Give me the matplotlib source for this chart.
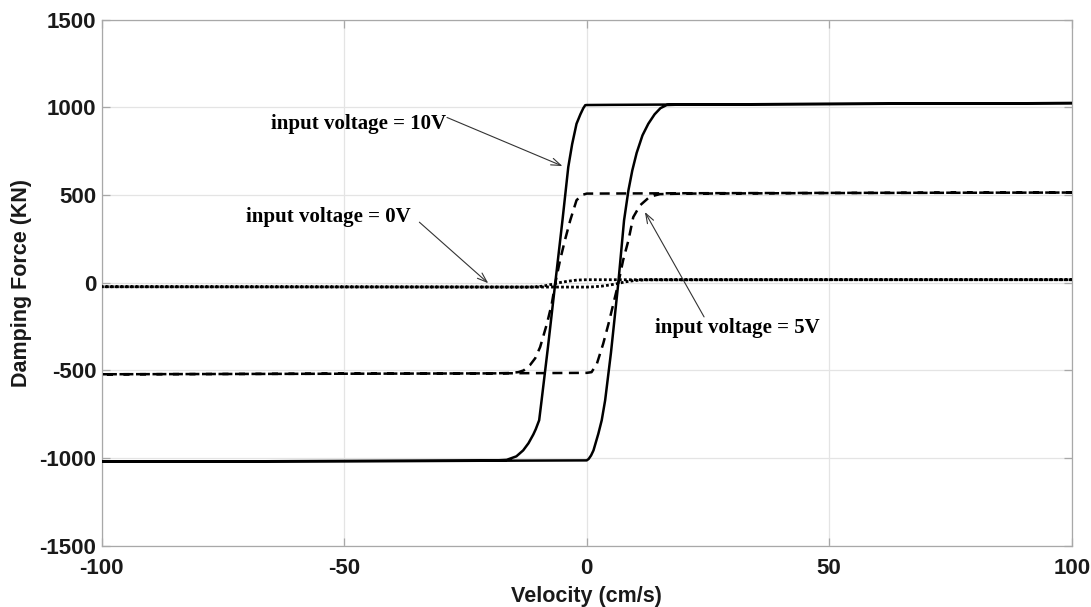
import matplotlib
matplotlib.use("Agg")
import matplotlib.pyplot as plt

plt.rcParams['axes.unicode_minus'] = False

# ---- data (velocity cm/s, force kN) ----
# 10 V loop: upper branch (velocity decreasing), lower branch (velocity increasing)
v10_up = [100, 50, 20, 5, 0, -0.3, -0.7, -1.3, -2.1, -3.0, -3.8, -5.0, -6.5, -8.0, -9.3, -9.8,
          -10.5, -11.0, -12.0, -13.1, -14.5, -16.5, -20, -50, -100]
f10_up = [1024, 1019, 1016, 1014, 1013, 1012, 995, 960, 906, 790, 659, 355, -6, -370, -671, -784,
          -835, -865, -915, -956, -990, -1010, -1015, -1017, -1020]
v10_dn = [-100, -50, -20, 0, 0.4, 0.9, 1.4, 2.4, 3.1, 3.8, 5.0, 6.5, 7.7, 8.6, 9.4, 10.3,
          11.5, 12.7, 14.0, 15.2, 16.5, 20, 50, 100]
f10_dn = [-1020, -1017, -1015, -1013, -1005, -985, -956, -861, -784, -671, -400, -6, 355, 526, 640, 740,
          840, 906, 960, 995, 1013, 1016, 1019, 1024]

# 5 V loop
v5_up = [100, 50, 20, 0, -1.0, -2.1, -3.4, -4.5, -5.5, -6.5, -7.2, -8.2, -9.6, -10.6, -11.7,
         -13.0, -14.1, -16, -20, -50, -100]
f5_up = [514, 512, 510, 508, 500, 470, 355, 241, 127, -6, -120, -234, -367, -430, -470,
         -500, -510, -515, -517, -519, -522]
v5_dn = [-100, -50, -20, 0, 1.0, 2.1, 3.4, 4.5, 5.5, 6.5, 7.5, 8.6, 9.6, 11.0, 13.0, 15.1, 20, 50, 100]
f5_dn = [-522, -519, -517, -514, -510, -462, -348, -234, -120, -6, 127, 241, 374, 441, 490, 505, 508, 511, 514]

# 0 V loop
v0_up = [100, 50, 0, -2, -4, -5.5, -7, -8.5, -10, -12, -50, -100]
f0_up = [17, 17, 17, 15, 8, 1, -8, -17, -23, -25, -24, -23]
v0_dn = [-100, -50, 0, 1, 3, 5, 6.5, 8, 10, 12, 50, 100]
f0_dn = [-23, -24, -25, -24, -20, -12, -4, 5, 13, 16, 17, 17]

x_ticks = [-100, -50, 0, 50, 100]
y_ticks = [-1500, -1000, -500, 0, 500, 1000, 1500]

labels = ["input voltage = 10V", "input voltage = 0V", "input voltage = 5V"]
label_xy = [(-47.0, 905), (-53.3, 375), (31.0, -258)]
arrow_from = [(-28.8, 942), (-34.5, 345), (24.2, -195)]
arrow_to = [(-5.0, 665), (-20.3, -3), (12.0, 403)]

# ---- figure ----
fig = plt.figure(figsize=(10.91, 6.07), dpi=100)
ax = fig.add_axes([101.7 / 1091, 61.2 / 607, 970 / 1091, 526.2 / 607])

lw = 1.8
ax.plot(v10_up + v10_dn, f10_up + f10_dn, color='black', lw=lw, linestyle='-', zorder=3)
ax.plot(v5_up + v5_dn, f5_up + f5_dn, color='black', lw=lw, linestyle=(0, (4, 2.6)), zorder=3)
ax.plot(v0_up + v0_dn, f0_up + f0_dn, color='black', lw=2.0, linestyle=(0, (1, 0.8)), zorder=3)

ax.set_xlim(-100, 100)
ax.set_ylim(-1500, 1500)
ax.set_xticks(x_ticks)
ax.set_yticks(y_ticks)
ax.set_xticklabels([str(t) for t in x_ticks])
ax.set_yticklabels([str(t) for t in y_ticks])

ax.grid(True, color='#e4e4e4', lw=0.9, zorder=0)
ax.set_axisbelow(True)
for s in ax.spines.values():
    s.set_color('#a8a8a8')
    s.set_linewidth(0.9)
ax.tick_params(direction='in', length=6, width=0.9, color='#a8a8a8',
               top=True, right=True)
ax.tick_params(axis='x', pad=9)
ax.tick_params(axis='y', pad=4)
for lab in ax.get_xticklabels() + ax.get_yticklabels():
    lab.set_fontfamily('Liberation Sans')
    lab.set_fontweight('bold')
    lab.set_fontsize(16)
    lab.set_color('#1a1a1a')

ax.set_xlabel('Velocity (cm/s)', fontfamily='Liberation Sans', fontweight='bold',
              fontsize=15.5, labelpad=5, color='#1a1a1a')
ax.set_ylabel('Damping Force (KN)', fontfamily='Liberation Sans', fontweight='bold',
              fontsize=15.5, labelpad=5, color='#1a1a1a')

for txt, pos, a0, a1 in zip(labels, label_xy, arrow_from, arrow_to):
    ax.text(pos[0], pos[1], txt, fontfamily='Liberation Serif', fontweight='bold',
            fontsize=15, ha='center', va='center', color='black', zorder=5)
    ax.annotate('', xy=a1, xytext=a0,
                arrowprops=dict(arrowstyle='->,head_length=0.7,head_width=0.25',
                                color='#333333', lw=0.8, shrinkA=0, shrinkB=0),
                zorder=5)

fig.savefig('out.png', dpi=100)
